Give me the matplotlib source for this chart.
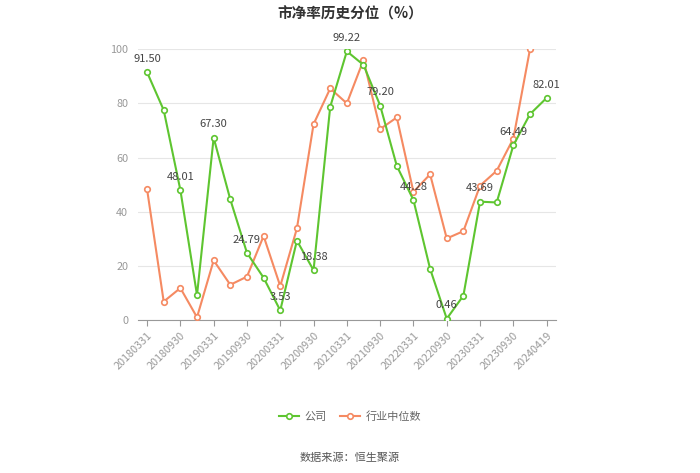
import numpy as np
import matplotlib
matplotlib.use("Agg")
import matplotlib.pyplot as plt

plt.rcParams['font.family'] = ['Noto Sans CJK SC', 'DejaVu Sans']

# ------------------------------------ data ------------------------------------
dates = ["20180331", "20180630", "20180930", "20181231", "20190331", "20190630",
         "20190930", "20191231", "20200331", "20200630", "20200930", "20201231",
         "20210331", "20210630", "20210930", "20211231", "20220331", "20220630",
         "20220930", "20221231", "20230331", "20230630", "20230930", "20231231",
         "20240419"]
company = [91.50, 77.5, 48.01, 9.2, 67.30, 44.5, 24.79, 15.6, 3.53, 29.3,
           18.38, 78.7, 99.22, 94.2, 79.20, 56.9, 44.28, 18.9, 0.46, 9.0,
           43.69, 43.4, 64.49, 76.0, 82.01]
industry = [48.3, 6.8, 11.8, 1.0, 22.0, 13.0, 16.0, 31.0, 12.5, 33.8,
            72.3, 85.5, 80.0, 96.0, 70.5, 74.8, 47.3, 53.8, 30.1, 32.8,
            49.6, 55.1, 67.0, 100.0, np.nan]

green = '#5ec530'
orange = '#f58a62'

# ------------------------------------ plot ------------------------------------
fig = plt.figure(figsize=(7, 4.73), dpi=100)
ax = fig.add_axes([0.197, 0.3235, 0.597, 0.5725])

x = np.arange(len(dates))
ax.plot(x, industry, color=orange, lw=1.5, marker='o', ms=4,
        markerfacecolor='white', markeredgewidth=1.2, label='行业中位数', zorder=3)
ax.plot(x, company, color=green, lw=1.5, marker='o', ms=4,
        markerfacecolor='white', markeredgewidth=1.2, label='公司', zorder=4)

# value labels on every other company point
for i in range(0, len(company), 2):
    ax.annotate(f"{company[i]:.2f}", (x[i], company[i]), xytext=(0, 6),
                textcoords='offset points', ha='center', va='bottom',
                fontsize=8, color='#444444', zorder=5)

ax.set_xlim(-0.55, len(dates) - 0.45)
ax.set_ylim(0, 100)
ax.set_yticks([0, 20, 40, 60, 80, 100])
ax.set_xticks(x[::2])
ax.set_xticklabels(dates[::2], rotation=45, ha='right', rotation_mode='anchor')
ax.tick_params(axis='x', colors='#999999', labelsize=7.8, length=4, color='#999999')
ax.tick_params(axis='y', colors='#999999', labelsize=7.8, length=0, pad=7)
ax.grid(axis='y', color='#e6e6e6', lw=0.8)
ax.set_axisbelow(True)
for s in ['top', 'right', 'left']:
    ax.spines[s].set_visible(False)
ax.spines['bottom'].set_color('#999999')

fig.text(0.5, 0.972, '市净率历史分位（%）', ha='center', va='center',
         fontsize=10.5, fontweight='bold', color='#333333')

h, l = ax.get_legend_handles_labels()
fig.legend(h[::-1], l[::-1], loc='center', bbox_to_anchor=(0.5, 0.12), ncol=2,
           frameon=False, fontsize=8, labelcolor='#666666', handlelength=1.8,
           handletextpad=0.5, columnspacing=1.2)

fig.text(0.5, 0.032, '数据来源：恒生聚源', ha='center', va='center',
         fontsize=8, color='#555555')

fig.savefig('out.png', dpi=100)
